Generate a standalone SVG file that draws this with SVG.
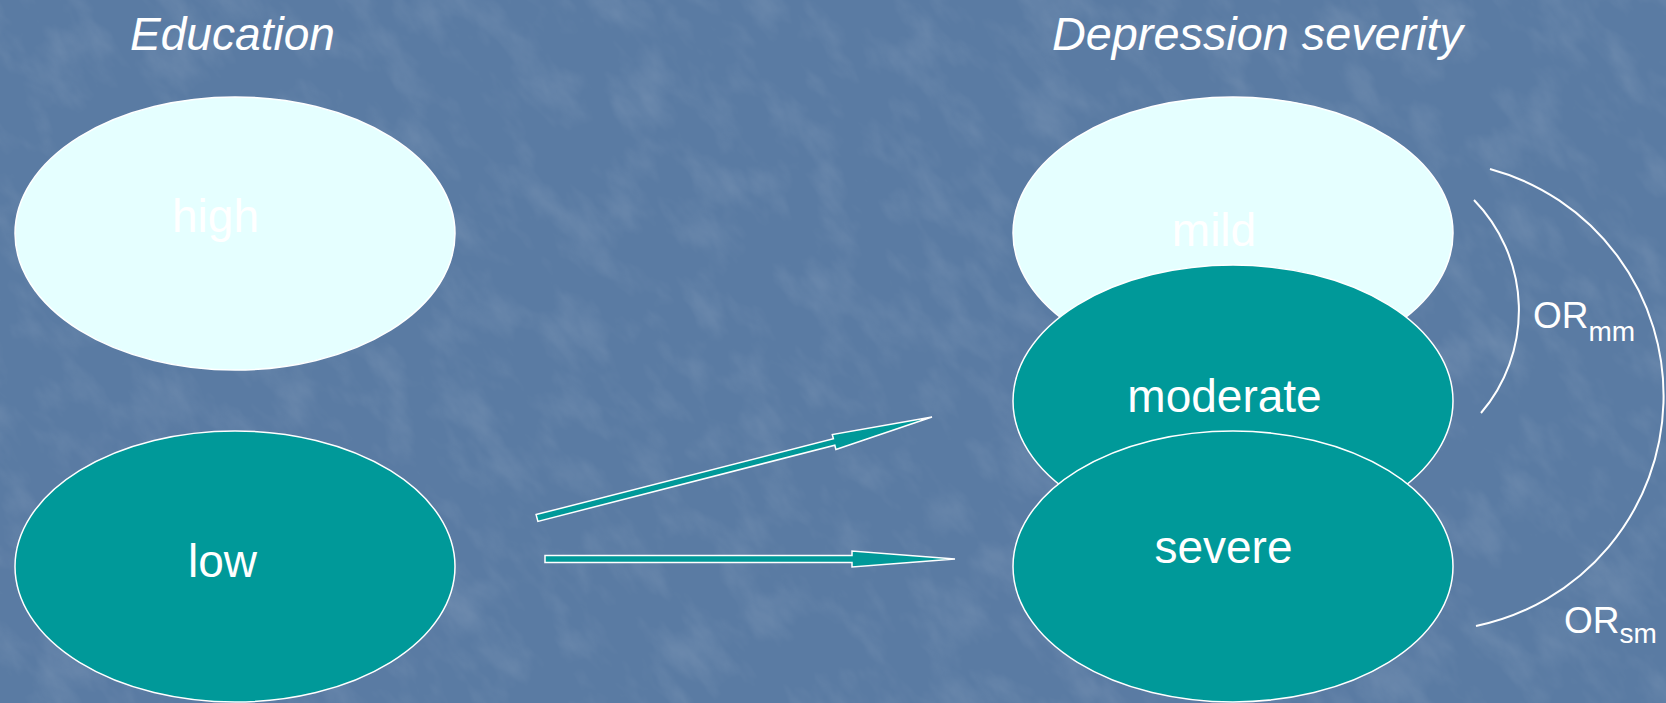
<svg xmlns="http://www.w3.org/2000/svg" width="1666" height="703" viewBox="0 0 1666 703">
<style>
.title{font-family:"Liberation Sans",Arial,sans-serif;font-style:italic;font-size:47px;fill:#ffffff}
.lbl{font-family:"Liberation Sans",Arial,sans-serif;font-size:46px;fill:#ffffff;text-anchor:middle}
.or{font-family:"Liberation Sans",Arial,sans-serif;font-size:37px;fill:#ffffff}
.sub{font-size:28px}
.light{fill:#e5ffff;stroke:#ffffff;stroke-width:1.5}
.teal{fill:#009999;stroke:#ffffff;stroke-width:1.5}
.arrow{fill:#009999;stroke:#ffffff;stroke-width:1.5;stroke-linejoin:miter}
.arc{fill:none;stroke:#ffffff;stroke-width:2}
</style>
<defs>
<filter id="tex" x="0" y="0" width="100%" height="100%">
<feTurbulence type="fractalNoise" baseFrequency="0.03 0.015" numOctaves="4" seed="11" result="n"/>
<feColorMatrix in="n" type="matrix" values="0 0 0 0 1  0 0 0 0 1  0 0 0 0 1  1.0 0 0 0 -0.45"/>
</filter>
</defs>
<rect width="1666" height="703" fill="#5a7ba3"/>
<g transform="rotate(-40 833 351)" opacity="0.22">
<rect x="-600" y="-600" width="2900" height="1900" filter="url(#tex)"/>
</g>
<text class="title" x="130" y="50" textLength="205" lengthAdjust="spacingAndGlyphs">Education</text>
<text class="title" x="1052" y="50" textLength="411" lengthAdjust="spacingAndGlyphs">Depression severity</text>
<g id="high">
<ellipse class="light" cx="235" cy="233.5" rx="220" ry="136.5"/>
<text class="lbl" x="215.5" y="232">high</text>
</g>
<g id="low">
<ellipse class="teal" cx="235" cy="566.5" rx="220" ry="135.5"/>
<text class="lbl" x="222.5" y="577">low</text>
</g>
<g id="mild">
<ellipse class="light" cx="1233" cy="233" rx="220" ry="136"/>
<text class="lbl" x="1214" y="246">mild</text>
</g>
<g id="moderate">
<ellipse class="teal" cx="1233" cy="401" rx="220" ry="136"/>
<text class="lbl" x="1224.5" y="412">moderate</text>
</g>
<g id="severe">
<ellipse class="teal" cx="1233" cy="566.5" rx="220" ry="135.5"/>
<text class="lbl" x="1223.5" y="563">severe</text>
</g>
<g id="connectors">
<polygon class="arrow" points="536.1,514.6 833.4,438.8 832.3,434.5 932,417 835.9,449.5 834.8,445.2 537.9,521.4"/>
<polygon class="arrow" points="545,555.5 852,555.5 852,551 955,559 852,567 852,562.5 545,562.5"/>
<path class="arc" d="M1474,200 A158,158 0 0 1 1481,413"/>
<path class="arc" d="M1490,169 A235,235 0 0 1 1476,626"/>
</g>
<g id="labels">
<text class="or" x="1533" y="328">OR<tspan class="sub" dy="13">mm</tspan></text>
<text class="or" x="1564" y="633">OR<tspan class="sub" dy="10">sm</tspan></text>
</g>
</svg>
